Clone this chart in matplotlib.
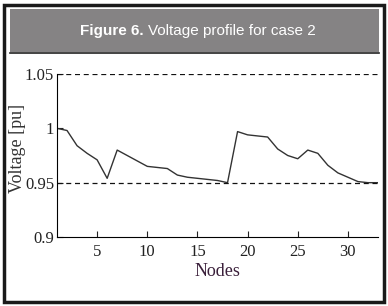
import matplotlib

matplotlib.use("Agg")
import matplotlib.pyplot as plt
from matplotlib.patches import Rectangle
import numpy as np

# Node voltages (case 2)
nodes = np.arange(1, 34)
voltage = [1.000, 0.998, 0.984, 0.977, 0.971, 0.954, 0.980, 0.975, 0.970, 0.965,
           0.964, 0.963, 0.957, 0.955, 0.954, 0.953, 0.952, 0.950, 0.997, 0.994,
           0.993, 0.992, 0.981, 0.975, 0.972, 0.980, 0.977, 0.966, 0.959, 0.955,
           0.951, 0.950, 0.950]
limits = [0.95, 1.05]
x_ticks = [5, 10, 15, 20, 25, 30]
y_ticks = [0.9, 0.95, 1.0, 1.05]
y_tick_labels = ["0.9", "0.95", "1", "1.05"]

W, H = 388, 306
fig = plt.figure(figsize=(W / 100, H / 100), dpi=100)
fig.patch.set_facecolor("white")

# outer frame
fig.patches.append(Rectangle((4 / W, 4 / H), 380 / W, 297 / H, transform=fig.transFigure,
                             fill=False, edgecolor="#1a1a1a", linewidth=2.5))
# grey header band
fig.patches.append(Rectangle((10 / W, 1 - 52 / H), 369 / W, 43 / H, transform=fig.transFigure,
                             facecolor="#858384", edgecolor="none"))
fig.add_artist(plt.Line2D([10 / W, 379 / W], [1 - 52.5 / H, 1 - 52.5 / H],
                          transform=fig.transFigure, color="#222222", linewidth=1.2))
fig.text(80 / W, 1 - 31 / H, "Figure 6.", color="white", fontsize=11, fontweight="bold",
         family="Liberation Sans", va="center", ha="left")
fig.text(148 / W, 1 - 31 / H, "Voltage profile for case 2", color="white", fontsize=11,
         family="Liberation Sans", va="center", ha="left")

ax = fig.add_axes([57 / W, 1 - 237 / H, 321 / W, 163 / H])
ax.plot(nodes, voltage, color="#333333", linewidth=1.0)
for lim in limits:
    ax.axhline(lim, color="#111111", linestyle=(0, (4, 3)), linewidth=0.9)

ax.set_xlim(1, 33)
ax.set_ylim(0.9, 1.05)
ax.set_xticks(x_ticks)
ax.set_yticks(y_ticks)
ax.set_yticklabels(y_tick_labels)
ax.tick_params(direction="in", length=4.5, width=0.8, labelsize=12, colors="#222222")
ax.tick_params(axis="x", pad=5)
ax.tick_params(axis="y", pad=2)
for lab in ax.get_xticklabels() + ax.get_yticklabels():
    lab.set_family("Liberation Serif")
ax.spines["top"].set_visible(False)
ax.spines["right"].set_visible(False)
ax.set_xlabel("Nodes", family="Liberation Serif", fontsize=13, color="#3a1f3a", labelpad=2)
ax.set_ylabel("Voltage [pu]", family="Liberation Serif", fontsize=13, color="#333333")
ax.yaxis.set_label_coords(-0.097, 0.546)

fig.savefig("out.png", dpi=100)
